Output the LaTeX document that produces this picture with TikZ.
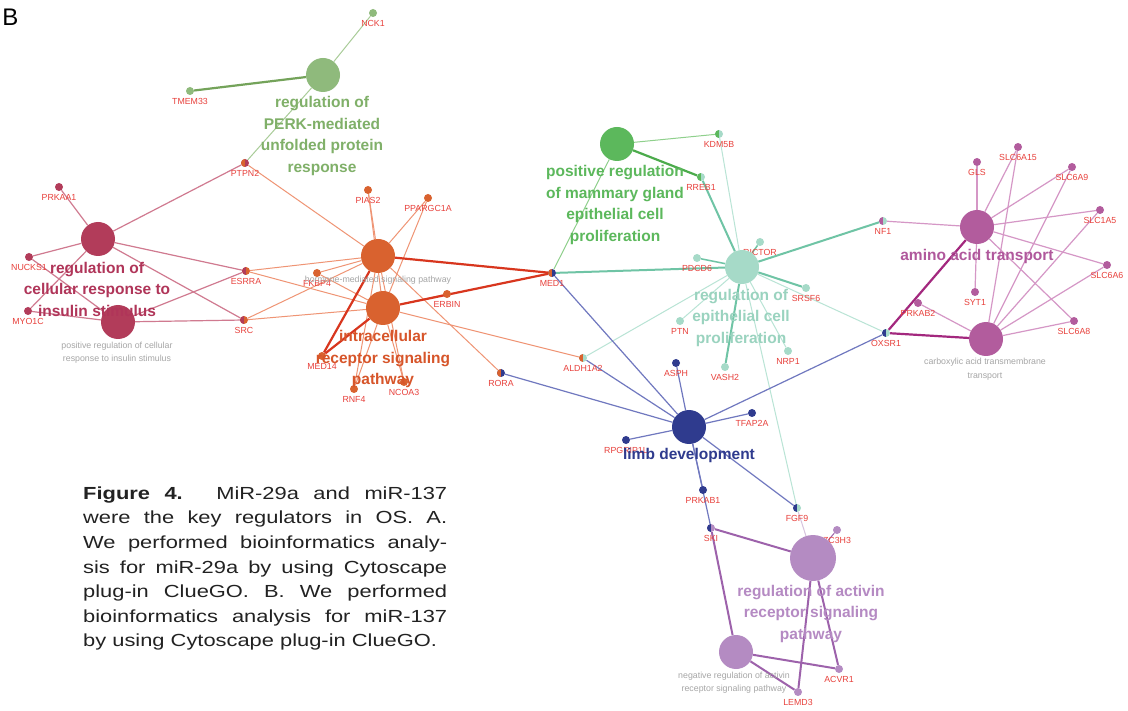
\documentclass[tikz,border=0pt]{standalone}
\usepackage{fontspec}
\setmainfont{Liberation Sans}
\newfontfamily\capfont[FakeStretch=1.25]{Liberation Sans}
\usetikzlibrary{backgrounds}
\definecolor{cPERK}{HTML}{8FBA7C}
\definecolor{cGreen}{HTML}{5CB85C}
\definecolor{cIns}{HTML}{B23C5A}
\definecolor{cOrange}{HTML}{D9622F}
\definecolor{cTeal}{HTML}{A6DAC8}
\definecolor{cMag}{HTML}{B25C9D}
\definecolor{cNavy}{HTML}{2F3B8E}
\definecolor{cPurple}{HTML}{B48BC2}
\definecolor{genered}{HTML}{E8413C}
\definecolor{greytxt}{HTML}{A6A6A6}
\definecolor{lPERK}{HTML}{80B069}
\definecolor{lGreen}{HTML}{5CB85C}
\definecolor{lIns}{HTML}{B03559}
\definecolor{lOrange}{HTML}{D7552A}
\definecolor{lTeal}{HTML}{9AD3BF}
\definecolor{lMag}{HTML}{B0589C}
\definecolor{lNavy}{HTML}{2F3B8E}
\definecolor{lPurple}{HTML}{B58AC3}
\definecolor{ePERKthin}{HTML}{A9CC98}
\definecolor{ePERKthick}{HTML}{74A35A}
\definecolor{eIns}{HTML}{D07A90}
\definecolor{eOr}{HTML}{EF9474}
\definecolor{eOrThick}{HTML}{D8361E}
\definecolor{eGr}{HTML}{8FD08C}
\definecolor{eGrThick}{HTML}{4CAB4C}
\definecolor{eTeal}{HTML}{6FC4A5}
\definecolor{eTealLight}{HTML}{B9E4D5}
\definecolor{eMag}{HTML}{D597C6}
\definecolor{eMagThick}{HTML}{A3287E}
\definecolor{eNavy}{HTML}{7078BF}
\definecolor{ePur}{HTML}{9D62AB}
\definecolor{ePurLight}{HTML}{D7C3DE}
\definecolor{captxt}{HTML}{222222}
\tikzset{
  term/.style={circle, minimum size=34pt, inner sep=0pt, draw=none, fill=#1},
  gdot/.style={circle, minimum size=8pt, inner sep=0pt, draw=none},
  half/.style={path picture={\fill[#1] (path picture bounding box.south west) rectangle (path picture bounding box.north);}},
  glabel/.style={text=genered, font=\fontsize{8.8}{9}\selectfont, inner sep=0pt},
  tlabel/.style={align=center, font=\fontsize{15.5}{21.5}\selectfont\bfseries, inner sep=0pt, text=#1},
  slabel/.style={align=center, font=\fontsize{8.8}{13.5}\selectfont, inner sep=0pt, text=greytxt},
  thin/.style={draw=#1, line width=1pt},
  mid/.style={draw=#1, line width=1.5pt},
  thick/.style={draw=#1, line width=2.2pt},
}
\newcommand\gn[4][]{%
  \node[gdot, fill=#4, #1] (#2) at (#3) {};
  \node[glabel, yshift=-10.5pt] (l#2) at (#3) {#2};}
\begin{document}
\begin{tikzpicture}[x=1pt, y=-1pt]
\useasboundingbox (0,0) rectangle (1128,711);
\node[font=\fontsize{24}{24}\selectfont, inner sep=0pt] (B) at (10.5,17) {B};
% genes
\gn[half=cOrange]{PTPN2}{245,163}{cIns}
\gn{NCK1}{373,13}{cPERK}
\gn{TMEM33}{190,91}{cPERK}
\gn{PRKAA1}{59,187}{cIns}
\gn{NUCKS1}{29,257}{cIns}
\gn{MYO1C}{28,311}{cIns}
\gn[half=cIns]{ESRRA}{246,271}{cOrange}
\gn[half=cIns]{SRC}{244,320}{cOrange}
\gn{PIAS2}{368,190}{cOrange}
\gn{PPARGC1A}{428,198}{cOrange}
\gn{FKBP4}{317,273}{cOrange}
\gn{ERBIN}{447,294}{cOrange}
\gn{MED14}{322,356}{cOrange}
\gn{RNF4}{354,389}{cOrange}
\gn{NCOA3}{404,382}{cOrange}
\gn[half=cOrange]{RORA}{501,373}{cNavy}
\gn[half=cOrange]{MED1}{552,273}{cNavy}
\gn[half=cOrange]{ALDH1A2}{583,358}{cTeal}
\gn[half=cGreen]{KDM5B}{719,134}{cTeal}
\gn[half=cGreen]{RREB1}{701,177}{cTeal}
\gn{RICTOR}{760,242}{cTeal}
\gn{PDCD6}{697,258}{cTeal}
\gn{SRSF6}{806,288}{cTeal}
\gn{PTN}{680,321}{cTeal}
\gn{NRP1}{788,351}{cTeal}
\gn{VASH2}{725,367}{cTeal}
\gn[half=cMag]{NF1}{883,221}{cTeal}
\gn[half=cNavy]{OXSR1}{886,333}{cTeal}
\gn{PRKAB2}{918,303}{cMag}
\gn{GLS}{977,162}{cMag}
\gn{SLC6A15}{1018,147}{cMag}
\gn{SLC6A9}{1072,167}{cMag}
\gn{SLC1A5}{1100,210}{cMag}
\gn{SLC6A6}{1107,265}{cMag}
\gn{SYT1}{975,292}{cMag}
\gn{SLC6A8}{1074,321}{cMag}
\gn{ASPH}{676,363}{cNavy}
\gn{TFAP2A}{752,413}{cNavy}
\gn{RPGRIP1L}{626,440}{cNavy}
\gn{PRKAB1}{703,490}{cNavy}
\gn[half=cNavy]{SKI}{711,528}{cPurple}
\gn[half=cNavy]{FGF9}{797,508}{cTeal}
\gn{ZC3H3}{837,530}{cPurple}
\gn{ACVR1}{839,669}{cPurple}
\gn{LEMD3}{798,692}{cPurple}
% terms
\node[term=cPERK] (tPERK) at (323,75) {};
\node[term=cGreen] (tMam) at (617,144) {};
\node[term=cIns] (tIns1) at (98,239) {};
\node[term=cIns] (tIns2) at (118,322) {};
\node[term=cOrange] (tHorm) at (378,256) {};
\node[term=cOrange] (tIntra) at (383,308) {};
\node[term=cTeal] (tEpi) at (742,267) {};
\node[term=cMag] (tAmino) at (977,227) {};
\node[term=cMag] (tCarb) at (986,339) {};
\node[term=cNavy] (tLimb) at (689,427) {};
\node[term=cPurple, minimum size=46pt] (tAct) at (813,558) {};
\node[term=cPurple] (tNeg) at (736,652) {};
% small grey labels
\node[slabel] (sIns2) at (117,352.5) {positive regulation of cellular\\response to insulin stimulus};
\node[slabel] (sHorm) at (378,280) {hormone-mediated signaling pathway};
\node[slabel] (sCarb) at (985,369) {carboxylic acid transmembrane\\transport};
\node[slabel] (sNeg) at (734,682.5) {negative regulation of activin\\receptor signaling pathway};
% term labels
\node[tlabel=lPERK] (xPERK) at (322,136) {regulation of\\PERK-mediated\\unfolded protein\\response};
\node[tlabel=lGreen] (xMam) at (615,205) {positive regulation\\of mammary gland\\epithelial cell\\proliferation};
\node[tlabel=lIns] (xIns) at (97,289) {regulation of\\cellular response to\\insulin stimulus};
\node[tlabel=lOrange] (xIntra) at (383,359) {intracellular\\receptor signaling\\pathway};
\node[tlabel=lTeal] (xEpi) at (741,317.5) {regulation of\\epithelial cell\\proliferation};
\node[tlabel=lMag] (xAmino) at (977,256) {amino acid transport};
\node[tlabel=lNavy] (xLimb) at (689,455) {limb development};
\node[tlabel=lPurple] (xAct) at (811,613.5) {regulation of activin\\receptor signaling\\pathway};
% caption
\node[anchor=north west, text width=364pt, align=justify, inner sep=0pt, text=captxt,
  font=\capfont\fontsize{17.5}{24.6}\selectfont] (cap) at (83,486.5)
  {\textbf{Figure 4.} MiR-29a and miR-137\linebreak
   were the key regulators in OS. A.\linebreak
   We performed bioinformatics analy-\linebreak
   sis for miR-29a by using Cytoscape\linebreak
   plug-in ClueGO. B. We performed\linebreak
   bioinformatics analysis for miR-137\linebreak
   by using Cytoscape plug-in ClueGO.};
% edges
\begin{scope}[on background layer]
\fill[white] (0,0) rectangle (1128,711);
\draw[thin=ePERKthin] (tPERK) -- (NCK1);
\draw[thick=ePERKthick] (tPERK) -- (TMEM33);
\draw[thin=ePERKthin] (tPERK) -- (PTPN2);
\foreach \g in {PRKAA1,NUCKS1,MYO1C,PTPN2,ESRRA,SRC}
  \draw[thin=eIns, line width=1.2pt] (tIns1) -- (\g);
\foreach \g in {NUCKS1,MYO1C,ESRRA,SRC}
  \draw[thin=eIns, line width=1.2pt] (tIns2) -- (\g);
\foreach \g in {PTPN2,PIAS2,PPARGC1A,ESRRA,SRC,FKBP4,RNF4,NCOA3,RORA}
  \draw[thin=eOr] (tHorm) -- (\g);
\foreach \g in {PIAS2,PPARGC1A,ESRRA,SRC,FKBP4,RNF4,NCOA3,ERBIN,ALDH1A2}
  \draw[thin=eOr] (tIntra) -- (\g);
\draw[thick=eOrThick] (tHorm) -- (MED1);
\draw[thick=eOrThick] (tIntra) -- (MED1);
\draw[thick=eOrThick] (tHorm) -- (MED14);
\draw[thick=eOrThick] (tIntra) -- (MED14);
\draw[thin=eGr] (tMam) -- (KDM5B);
\draw[thick=eGrThick] (tMam) -- (RREB1);
\draw[thin=eGr] (tMam) -- (MED1);
\foreach \g in {RREB1,SRSF6,VASH2,MED1,NF1}
  \draw[thick=eTeal, line width=2pt] (tEpi) -- (\g);
\foreach \g in {RICTOR,PDCD6}
  \draw[mid=eTeal] (tEpi) -- (\g);
\foreach \g in {KDM5B,PTN,NRP1,OXSR1,ALDH1A2,FGF9}
  \draw[thin=eTealLight] (tEpi) -- (\g);
\foreach \g in {NF1,GLS,SLC6A15,SLC6A9,SLC1A5,SLC6A6,SYT1,SLC6A8}
  \draw[thin=eMag, line width=1.2pt] (tAmino) -- (\g);
\foreach \g in {PRKAB2,SLC6A15,SLC6A9,SLC1A5,SLC6A6,SLC6A8}
  \draw[thin=eMag, line width=1.2pt] (tCarb) -- (\g);
\draw[thick=eMagThick] (tAmino) -- (OXSR1);
\draw[thick=eMagThick] (tCarb) -- (OXSR1);
\foreach \g in {MED1,ALDH1A2,RORA,ASPH,TFAP2A,RPGRIP1L,PRKAB1,SKI,FGF9,OXSR1}
  \draw[thin=eNavy, line width=1.2pt] (tLimb) -- (\g);
\foreach \g in {SKI,ACVR1,LEMD3}
  \draw[thick=ePur, line width=2pt] (tAct) -- (\g);
\foreach \g in {SKI,ACVR1,LEMD3}
  \draw[thick=ePur, line width=2pt] (tNeg) -- (\g);
\draw[thin=ePur] (tAct) -- (ZC3H3);
\draw[thin=ePurLight] (tAct) -- (FGF9);
\end{scope}
\end{tikzpicture}
\end{document}
